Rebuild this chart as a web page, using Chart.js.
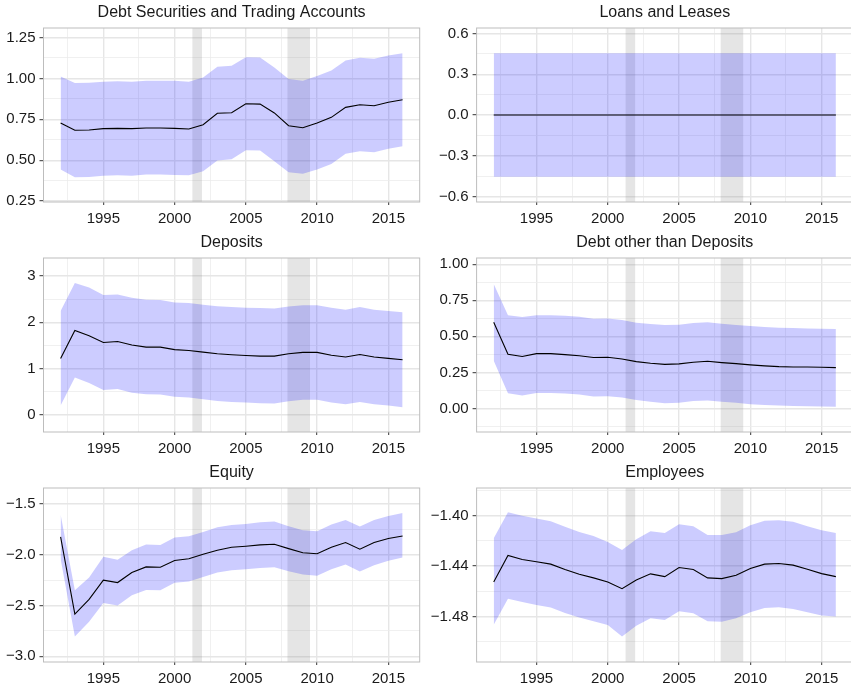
<!DOCTYPE html>
<html>
<head>
<meta charset="utf-8">
<script src="https://cdn.jsdelivr.net/npm/chart.js@4.4.1/dist/chart.umd.min.js"></script>
<style>
    html, body { margin: 0; padding: 0; background: #fff; }
    body { width: 851px; height: 684px; overflow: hidden; position: relative; }
    canvas { position: absolute; }
</style>
</head>
<body>
<canvas id="g0" width="425" height="230" style="left:0px;top:0px"></canvas>
<canvas id="g1" width="428" height="230" style="left:425px;top:0px"></canvas>
<canvas id="g2" width="425" height="230" style="left:0px;top:230px"></canvas>
<canvas id="g3" width="428" height="230" style="left:425px;top:230px"></canvas>
<canvas id="g4" width="425" height="230" style="left:0px;top:460px"></canvas>
<canvas id="g5" width="428" height="230" style="left:425px;top:460px"></canvas>
<script>
const anos = [1992, 1993, 1994, 1995, 1996, 1997, 1998, 1999, 2000, 2001, 2002, 2003, 2004,
    2005, 2006, 2007, 2008, 2009, 2010, 2011, 2012, 2013, 2014, 2015, 2016];

// recessoes (inicio, fim) em anos
const recessoes = [[2001.25, 2001.92], [2007.92, 2009.5]];

const titulos = ['Debt Securities and Trading Accounts', 'Loans and Leases', 'Deposits',
    'Debt other than Deposits', 'Equity', 'Employees'];

const debtSecEst = [0.728, 0.683, 0.685, 0.693, 0.695, 0.693, 0.697, 0.697, 0.695, 0.691, 0.717, 0.787, 0.790,
    0.845, 0.843, 0.789, 0.711, 0.699, 0.728, 0.762, 0.823, 0.839, 0.833, 0.854, 0.870];
const debtSecAlto = [1.012, 0.972, 0.974, 0.980, 0.982, 0.980, 0.986, 0.986, 0.986, 0.980, 1.006, 1.071, 1.077,
    1.130, 1.128, 1.067, 0.996, 0.986, 1.014, 1.049, 1.110, 1.126, 1.120, 1.140, 1.154];
const debtSecBaixo = [0.443, 0.396, 0.398, 0.406, 0.408, 0.406, 0.413, 0.413, 0.410, 0.408, 0.433, 0.498, 0.506,
    0.561, 0.559, 0.494, 0.427, 0.417, 0.443, 0.477, 0.540, 0.555, 0.549, 0.571, 0.585];

const loansEst = [0, 0, 0, 0, 0, 0, 0, 0, 0, 0, 0, 0, 0, 0, 0, 0, 0, 0, 0, 0, 0, 0, 0, 0, 0];
const loansAlto = [0.455, 0.455, 0.455, 0.455, 0.455, 0.455, 0.455, 0.455, 0.455, 0.455, 0.455, 0.455, 0.455,
    0.455, 0.455, 0.455, 0.455, 0.455, 0.455, 0.455, 0.455, 0.455, 0.455, 0.455, 0.455];
const loansBaixo = [-0.455, -0.455, -0.455, -0.455, -0.455, -0.455, -0.455, -0.455, -0.455, -0.455, -0.455, -0.455, -0.455,
    -0.455, -0.455, -0.455, -0.455, -0.455, -0.455, -0.455, -0.455, -0.455, -0.455, -0.455, -0.455];

const depositsEst = [1.22, 1.825, 1.71, 1.565, 1.587, 1.51, 1.464, 1.464, 1.41, 1.392, 1.356, 1.32, 1.30,
    1.284, 1.27, 1.27, 1.32, 1.35, 1.35, 1.29, 1.25, 1.305, 1.25, 1.22, 1.19];
const depositsAlto = [2.243, 2.85, 2.75, 2.59, 2.60, 2.53, 2.49, 2.48, 2.43, 2.416, 2.38, 2.35, 2.33,
    2.315, 2.31, 2.30, 2.344, 2.37, 2.37, 2.315, 2.27, 2.33, 2.27, 2.243, 2.22];
const depositsBaixo = [0.20, 0.81, 0.69, 0.54, 0.56, 0.48, 0.445, 0.44, 0.39, 0.375, 0.34, 0.30, 0.28,
    0.267, 0.252, 0.245, 0.296, 0.325, 0.325, 0.267, 0.23, 0.28, 0.23, 0.20, 0.165];

const debtOtherEst = [0.597, 0.376, 0.360, 0.380, 0.380, 0.373, 0.366, 0.353, 0.355, 0.343, 0.325, 0.313, 0.306,
    0.309, 0.320, 0.327, 0.318, 0.311, 0.302, 0.295, 0.290, 0.288, 0.288, 0.286, 0.283];
const debtOtherAlto = [0.862, 0.647, 0.634, 0.647, 0.647, 0.643, 0.636, 0.622, 0.624, 0.613, 0.594, 0.585, 0.578,
    0.581, 0.592, 0.597, 0.588, 0.578, 0.571, 0.565, 0.560, 0.558, 0.555, 0.553, 0.551];
const debtOtherBaixo = [0.330, 0.106, 0.090, 0.108, 0.108, 0.104, 0.097, 0.083, 0.085, 0.076, 0.058, 0.046, 0.037,
    0.039, 0.051, 0.055, 0.046, 0.039, 0.030, 0.025, 0.021, 0.018, 0.016, 0.014, 0.012];

const equityEst = [-1.825, -2.585, -2.44, -2.25, -2.274, -2.175, -2.12, -2.123, -2.057, -2.04, -1.995, -1.956, -1.926,
    -1.916, -1.903, -1.897, -1.94, -1.98, -1.99, -1.926, -1.88, -1.946, -1.88, -1.84, -1.815];
const equityAlto = [-1.605, -2.35, -2.225, -2.02, -2.05, -1.956, -1.90, -1.903, -1.83, -1.818, -1.775, -1.73, -1.707,
    -1.697, -1.68, -1.674, -1.72, -1.76, -1.77, -1.703, -1.657, -1.723, -1.657, -1.618, -1.588];
const equityBaixo = [-2.04, -2.805, -2.66, -2.474, -2.50, -2.398, -2.346, -2.35, -2.277, -2.264, -2.22, -2.175, -2.152,
    -2.143, -2.13, -2.123, -2.162, -2.195, -2.208, -2.143, -2.097, -2.166, -2.103, -2.06, -2.028];

const employeesEst = [-1.4525, -1.4315, -1.4347, -1.4365, -1.4384, -1.4427, -1.4464, -1.4493, -1.4525, -1.4579,
    -1.4509, -1.4461, -1.4483, -1.4411, -1.4427, -1.4493, -1.4499, -1.4472, -1.4419, -1.4384, -1.4379, -1.4392,
    -1.4424, -1.4459, -1.4483];
const employeesAlto = [-1.4179, -1.3973, -1.4000, -1.4021, -1.4043, -1.4088, -1.4128, -1.4160, -1.4208, -1.4272,
    -1.4187, -1.4123, -1.4136, -1.4067, -1.4083, -1.4152, -1.4152, -1.4131, -1.4075, -1.4040, -1.4035, -1.4048,
    -1.4083, -1.4115, -1.4136];
const employeesBaixo = [-1.4864, -1.4659, -1.4685, -1.4707, -1.4728, -1.4771, -1.4808, -1.4837, -1.4867, -1.4957,
    -1.4872, -1.4813, -1.4827, -1.4757, -1.4773, -1.4837, -1.4840, -1.4813, -1.4765, -1.4731, -1.4725, -1.4739,
    -1.4765, -1.4792, -1.4800];

Chart.defaults.font.family = '"Liberation Sans", Arial, sans-serif';
Chart.defaults.font.size = 15;
Chart.defaults.color = '#1a1a1a';

function ehMultiplo(valor, passo) {
    const r = valor / passo;
    return Math.abs(r - Math.round(r)) < 1e-6;
}

// faixas cinzas das recessoes, desenhadas antes das series
const pluginRecessao = {
    id: 'recessao',
    beforeDatasetsDraw(chart) {
        const { ctx, chartArea, scales } = chart;
        ctx.save();
        ctx.fillStyle = 'rgba(127, 127, 127, 0.2)';
        recessoes.forEach(([ini, fim]) => {
            const x1 = scales.x.getPixelForValue(ini);
            const x2 = scales.x.getPixelForValue(fim);
            ctx.fillRect(x1, chartArea.top, x2 - x1, chartArea.bottom - chartArea.top);
        });
        ctx.restore();
    }
};

// moldura do painel e titulo centralizado sobre ele
const pluginMoldura = {
    id: 'moldura',
    afterDraw(chart, args, opts) {
        const { ctx, chartArea } = chart;
        ctx.save();
        ctx.strokeStyle = '#bdbdbd';
        ctx.lineWidth = 1;
        ctx.strokeRect(chartArea.left, chartArea.top, chartArea.right - chartArea.left, chartArea.bottom - chartArea.top);
        ctx.fillStyle = '#1a1a1a';
        ctx.font = '16px "Liberation Sans", Arial, sans-serif';
        ctx.textAlign = 'center';
        ctx.textBaseline = 'middle';
        ctx.fillText(opts.texto, (chartArea.left + chartArea.right) / 2, chartArea.top - 15);
        ctx.restore();
    }
};

function criarGrafico(id, titulo, est, baixo, alto, yMin, yMax, passo, maior, casas, larguraEixo, margemDir) {
    const canva = document.getElementById(id).getContext('2d');
    const pontos = v => anos.map((ano, i) => ({ x: ano, y: v[i] }));
    const formatar = v => v.toFixed(casas).replace('-', '\u2212');

    return new Chart(canva, {
        type: 'line',
        data: {
            datasets: [
                { data: pontos(est), borderColor: '#000000', borderWidth: 1.1, pointRadius: 0, fill: false },
                { data: pontos(baixo), borderWidth: 0, borderColor: 'transparent', pointRadius: 0, fill: false },
                {
                    data: pontos(alto), borderWidth: 0, borderColor: 'transparent', pointRadius: 0,
                    fill: 1, backgroundColor: 'rgba(0, 0, 255, 0.2)'
                }
            ]
        },
        options: {
            responsive: false,
            animation: false,
            devicePixelRatio: 1,
            layout: { padding: { top: 28, right: margemDir, left: 0, bottom: 0 } },
            plugins: {
                legend: { display: false },
                tooltip: { enabled: false },
                moldura: { texto: titulo }
            },
            scales: {
                x: {
                    type: 'linear',
                    min: 1990.8,
                    max: 2017.2,
                    afterFit: escala => { escala.height = 28; },
                    border: { display: false },
                    grid: {
                        color: c => ehMultiplo(c.tick.value, 5) ? '#e6e6e6' : '#ececec',
                        lineWidth: c => ehMultiplo(c.tick.value, 5) ? 1.4 : 0.8,
                        tickColor: c => ehMultiplo(c.tick.value, 5) ? '#333333' : 'transparent',
                        tickLength: 3,
                        tickWidth: 1
                    },
                    ticks: {
                        stepSize: 2.5,
                        includeBounds: false,
                        autoSkip: false,
                        maxRotation: 0,
                        padding: 5,
                        color: '#1a1a1a',
                        callback: v => ehMultiplo(v, 5) ? String(v) : ''
                    }
                },
                y: {
                    min: yMin,
                    max: yMax,
                    afterFit: escala => { escala.width = larguraEixo; },
                    border: { display: false },
                    grid: {
                        color: c => ehMultiplo(c.tick.value, maior) ? '#e6e6e6' : '#ececec',
                        lineWidth: c => ehMultiplo(c.tick.value, maior) ? 1.4 : 0.8,
                        tickColor: c => ehMultiplo(c.tick.value, maior) ? '#333333' : 'transparent',
                        tickLength: 4,
                        tickWidth: 1
                    },
                    ticks: {
                        stepSize: passo,
                        includeBounds: false,
                        autoSkip: false,
                        padding: 4,
                        color: '#1a1a1a',
                        callback: v => ehMultiplo(v, maior) ? formatar(v) : ''
                    }
                }
            }
        },
        plugins: [pluginRecessao, pluginMoldura]
    });
}

criarGrafico('g0', titulos[0], debtSecEst, debtSecBaixo, debtSecAlto, 0.245, 1.308, 0.125, 0.25, 2, 43.5, 5.3);
criarGrafico('g1', titulos[1], loansEst, loansBaixo, loansAlto, -0.64, 0.64, 0.15, 0.3, 1, 51.6, 0);
criarGrafico('g2', titulos[2], depositsEst, depositsBaixo, depositsAlto, -0.37, 3.39, 0.5, 1, 0, 43.5, 5.3);
criarGrafico('g3', titulos[3], debtOtherEst, debtOtherBaixo, debtOtherAlto, -0.163, 1.043, 0.125, 0.25, 2, 51.6, 0);
criarGrafico('g4', titulos[4], equityEst, equityBaixo, equityAlto, -3.056, -1.343, 0.25, 0.5, 1, 43.5, 5.3);
criarGrafico('g5', titulos[5], employeesEst, employeesBaixo, employeesAlto, -1.516, -1.378, 0.02, 0.04, 2, 51.6, 0);
</script>
</body>
</html>
